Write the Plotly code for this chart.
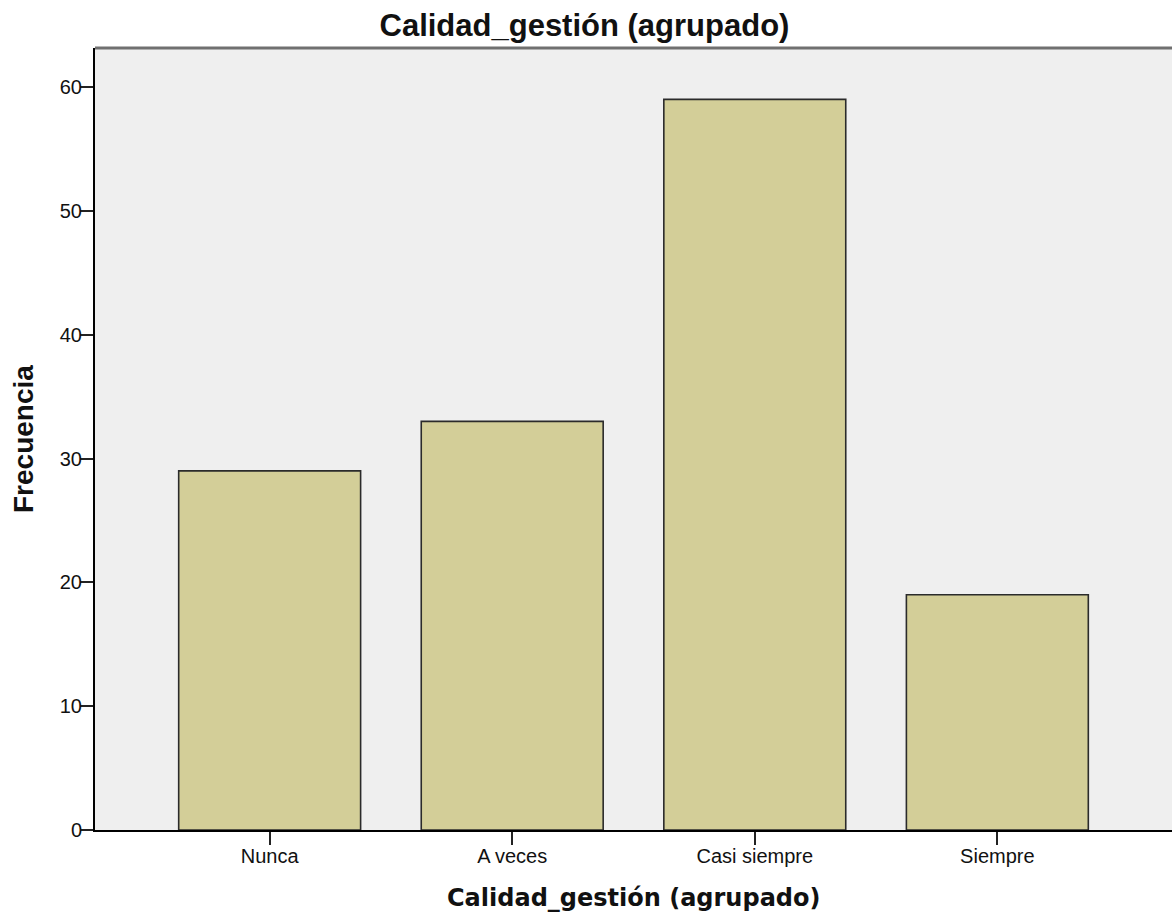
import plotly.graph_objects as go

categories = ["Nunca", "A veces", "Casi siempre", "Siempre"]
frecuencia = [29, 33, 59, 19]
y_ticks = [0, 10, 20, 30, 40, 50, 60]

title_text = "Calidad_gestión (agrupado)"
x_title = "Calidad_gestión (agrupado)"
y_title = "Frecuencia"

W, H = 1172, 918
L, R, T, B = 95, 0, 48, 88

fig = go.Figure()
fig.add_trace(go.Bar(
    x=categories,
    y=frecuencia,
    width=0.75,
    marker=dict(color="#D3CE98", line=dict(color="#2b2b2b", width=1.6)),
    showlegend=False,
))

fig.update_layout(
    width=W, height=H,
    margin=dict(l=L, r=R, t=T, b=B, pad=0),
    paper_bgcolor="white",
    plot_bgcolor="#EFEFEF",
    font=dict(family="Liberation Sans, Arial, sans-serif", color="#111111", size=20),
    title=dict(
        text=title_text,
        x=0.4987, xref="container", xanchor="center",
        y=1 - 14 / H, yref="container", yanchor="top",
        font=dict(family="Liberation Sans, Arial, sans-serif", size=31, weight="bold", color="#111111"),
    ),
    xaxis=dict(
        type="category",
        range=[-0.72, 3.72],
        showgrid=False, zeroline=False,
        showline=True, linecolor="#000000", linewidth=2,
        ticks="outside", ticklen=13, tickwidth=2, tickcolor="#222222",
        tickfont=dict(size=20, family="Liberation Sans, Arial, sans-serif", color="#111111"),
        ticklabelstandoff=-6,
        fixedrange=True,
    ),
    yaxis=dict(
        range=[0, 63.15],
        tickvals=y_ticks,
        showgrid=False, zeroline=False,
        showline=True, linecolor="#000000", linewidth=2,
        ticks="outside", ticklen=13, tickwidth=2, tickcolor="#222222",
        tickfont=dict(size=20, family="Liberation Sans, Arial, sans-serif", color="#111111"),
        ticklabelstandoff=-6,
        fixedrange=True,
    ),
    annotations=[
        dict(
            text=x_title, xref="paper", yref="paper", x=0.5, y=0,
            xanchor="center", yanchor="top", yshift=-52, showarrow=False,
            font=dict(family="DejaVu Sans, sans-serif", size=24, weight="bold", color="#111111"),
        ),
        dict(
            text=y_title, xref="paper", yref="paper", x=0, y=0.5,
            xanchor="center", yanchor="middle", xshift=-72, textangle=-90, showarrow=False,
            font=dict(family="Liberation Sans, Arial, sans-serif", size=28, weight="bold", color="#111111"),
        ),
    ],
    shapes=[
        dict(type="line", xref="paper", yref="paper", x0=0, x1=1, y0=1, y1=1,
             line=dict(color="#707070", width=3)),
    ],
)

fig.write_html(
    "out.html",
    config={"displayModeBar": False},
    post_script="document.body.style.margin='0';document.body.style.overflow='hidden';",
)
